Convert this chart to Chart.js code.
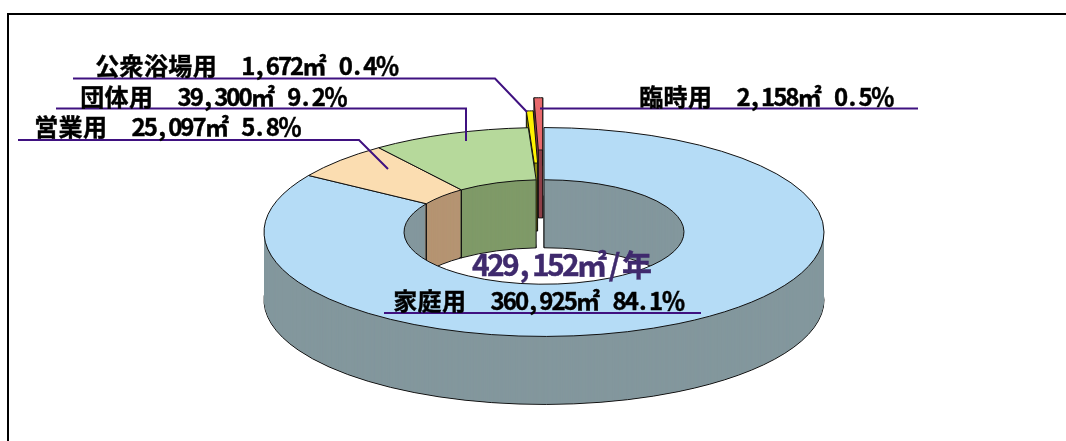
<!DOCTYPE html>
<html lang="ja">
<head>
<meta charset="utf-8">
<script src="https://cdn.jsdelivr.net/npm/chart.js@4"></script>
<style>
    html, body { margin: 0; padding: 0; background: #fff; overflow: hidden; }
    #wrap { position: relative; width: 1066px; height: 441px; overflow: hidden; }
    #frame { position: absolute; left: 7px; top: 13px; width: 1100px; height: 500px; border-top: 2px solid #000; border-left: 2px solid #000; }
    #ctx { position: absolute; left: 0; top: 0; }
    .lbl { position: absolute; white-space: pre; color: #000; font: bold 24px/24px "Noto Sans CJK JP", sans-serif; -webkit-text-stroke-width: 0.4px; }
    .lbl span { display: inline-block; text-align: center; }
    #total { color: #3f2a6d; font-size: 30px; line-height: 30px; }
</style>
</head>
<body>
<div id="wrap">
    <div id="frame"></div>
    <canvas id="ctx" width="1066" height="441"></canvas>
</div>
<script>
const categories = ['家庭用', '営業用', '団体用', '公衆浴場用', '臨時用'];
const volumes = [360925, 25097, 39300, 1672, 2158];
const percents = [84.1, 5.8, 9.2, 0.4, 0.5];
const topColors = ['#b5dcf6', '#fbddb1', '#b6d99b', '#fff200', '#e8696c'];
const wallColors = ['#83979d', '#b59472', '#7f9a68', '#8c8a10', '#8e3f48'];
const explode = [0, 0, 0, 45, 80];

// where the text sits and the leader lines run
const labelPos = [[393, 288], [34, 114], [80, 84], [95, 53], [639, 84]];
const leaders = [
    [[384, 313], [701, 313]],
    [[18, 140], [359, 140], [388, 169]],
    [[56, 108.5], [466, 108.5], [466, 141]],
    [[73, 78.5], [495, 78.5], [527, 112]],
    [[540, 108.5], [918, 108.5]]
];

const squash = 0.373;
const depth = 68;

const wrap = document.getElementById('wrap');

// the original font is fixed pitch, so every character gets its own cell
function addLabel(text, x, y, cell) {
    let el = document.createElement('div');
    el.className = 'lbl';
    for (let ch of text) {
        let s = document.createElement('span');
        s.textContent = ch;
        s.style.width = (ch.charCodeAt(0) < 128 ? cell : cell * 2) + 'px';
        el.appendChild(s);
    }
    el.style.left = x + 'px';
    el.style.top = y + 'px';
    wrap.appendChild(el);
    return el;
}

categories.forEach((name, i) => {
    let text = name + '\u3000' + volumes[i].toLocaleString('en-US') + '㎡ ' + percents[i].toFixed(1) + '％';
    addLabel(text, labelPos[i][0], labelPos[i][1], 12.2);
});
addLabel(volumes.reduce((a, b) => a + b, 0).toLocaleString('en-US') + '㎡/年', 472, 248, 15).id = 'total';

function drawArc(ctx, arc, i, cx, cy, d, color, border) {
    let saved = arc.options;
    let mid = (arc.startAngle + arc.endAngle) / 2;
    arc.options = Object.assign({}, saved, { backgroundColor: color, borderWidth: border });
    ctx.save();
    ctx.translate(cx, cy + d);
    ctx.scale(1, squash);
    ctx.translate(-cx + Math.cos(mid) * explode[i], -cy + Math.sin(mid) * explode[i]);
    arc.draw(ctx);
    ctx.restore();
    arc.options = saved;
}

// corners of a slice get a vertical edge down the wall
function drawEdges(ctx, arc, i, cx, cy) {
    let mid = (arc.startAngle + arc.endAngle) / 2;
    let sx = Math.cos(mid) * explode[i], sy = Math.sin(mid) * explode[i];
    let radii = explode[i] ? [arc.innerRadius, arc.outerRadius] : [arc.innerRadius];
    ctx.save();
    ctx.strokeStyle = '#111';
    ctx.lineWidth = 1;
    [arc.startAngle, arc.endAngle].forEach(a => {
        radii.forEach(r => {
            let x = cx + sx + Math.cos(a) * r;
            let y = cy + (sy + Math.sin(a) * r) * squash;
            ctx.beginPath();
            ctx.moveTo(x, y);
            ctx.lineTo(x, y + depth);
            ctx.stroke();
        });
    });
    ctx.restore();
}

const pie3d = {
    id: 'pie3d',
    beforeDatasetDraw(chart) {
        const ctx = chart.ctx;
        const arcs = chart.getDatasetMeta(0).data;
        const cx = arcs[0].x, cy = arcs[0].y;
        // strokes are made after the squash so lines keep an even width
        const rawStroke = ctx.stroke;
        ctx.stroke = function () {
            ctx.save();
            ctx.setTransform(1, 0, 0, 1, 0, 0);
            rawStroke.call(ctx);
            ctx.restore();
        };
        let stack = list => {
            list.forEach(i => drawArc(ctx, arcs[i], i, cx, cy, depth, wallColors[i], 1));
            for (let d = depth - 1; d > 0; d--) {
                list.forEach(i => drawArc(ctx, arcs[i], i, cx, cy, d, wallColors[i], 0));
            }
            list.forEach(i => drawEdges(ctx, arcs[i], i, cx, cy));
            list.forEach(i => drawArc(ctx, arcs[i], i, cx, cy, 0, topColors[i], 1));
        };
        // pulled out slices sit behind the ring, seen through its gap
        stack([4]);
        stack([3]);
        stack([0, 1, 2]);
        ctx.stroke = rawStroke;

        ctx.save();
        ctx.strokeStyle = '#3f1180';
        ctx.lineWidth = 2;
        leaders.forEach(pts => {
            ctx.beginPath();
            pts.forEach((p, k) => k ? ctx.lineTo(p[0], p[1]) : ctx.moveTo(p[0], p[1]));
            ctx.stroke();
        });
        ctx.restore();
        return false;
    }
};

let myChart = new Chart(document.getElementById('ctx'), {
    type: 'doughnut',
    data: {
        labels: categories,
        datasets: [{
            data: volumes,
            backgroundColor: topColors,
            borderColor: '#111',
            borderWidth: 1
        }]
    },
    options: {
        responsive: false,
        animation: false,
        radius: 280,
        cutout: '50%',
        layout: { padding: { left: 22, top: 23 } },
        plugins: { legend: { display: false }, tooltip: { enabled: false } }
    },
    plugins: [pie3d]
});
</script>
</body>
</html>
